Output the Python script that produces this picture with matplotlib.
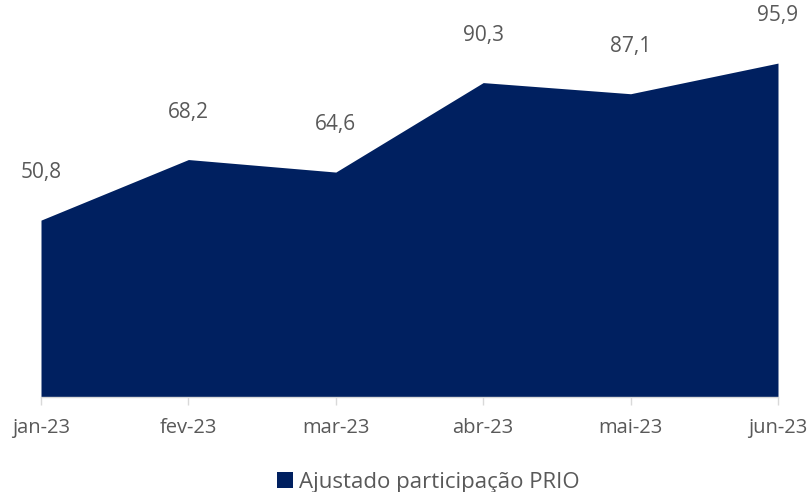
import matplotlib
matplotlib.use("Agg")
import matplotlib.pyplot as plt
from matplotlib.patches import Patch

meses   = ["jan-23", "fev-23", "mar-23", "abr-23", "mai-23", "jun-23"]
valores = [50.8, 68.2, 64.6, 90.3, 87.1, 95.9]
serie   = "Ajustado participação PRIO"

AZUL  = "#002060"
CINZA = "#595959"

plt.rcParams["font.family"] = ["Open Sans", "DejaVu Sans"]

fig = plt.figure(figsize=(8.12, 4.92), dpi=100)
ax = fig.add_axes([41 / 812, 95 / 492, 737 / 812, 383 / 492])

x = range(len(meses))
ax.fill_between(x, 0, valores, color=AZUL, linewidth=0)
ax.set_xlim(0, len(meses) - 1)
ax.set_ylim(0, 110)

# rótulos de dados acima de cada ponto
for xi, v in zip(x, valores):
    ax.annotate(f"{v:.1f}".replace(".", ","), (xi, v), xytext=(0, 34),
                textcoords="offset points", ha="center", va="center",
                fontsize=15, color=CINZA)

ax.set_xticks(list(x))
ax.set_xticklabels(meses, fontsize=14.5, color=CINZA)
ax.tick_params(axis="x", length=6, width=1, color="#D9D9D9", pad=9)
ax.set_yticks([])
for s in ["top", "right", "left"]:
    ax.spines[s].set_visible(False)
ax.spines["bottom"].set_color("#D9D9D9")
ax.spines["bottom"].set_linewidth(1)

handle = Patch(facecolor=AZUL, edgecolor="none")
fig.legend([handle], [serie], loc="lower center", bbox_to_anchor=(0.527, -0.042),
           frameon=False, fontsize=16, labelcolor=CINZA,
           handlelength=0.75, handleheight=0.75, handletextpad=0.25)

fig.savefig("out.png", dpi=100)
